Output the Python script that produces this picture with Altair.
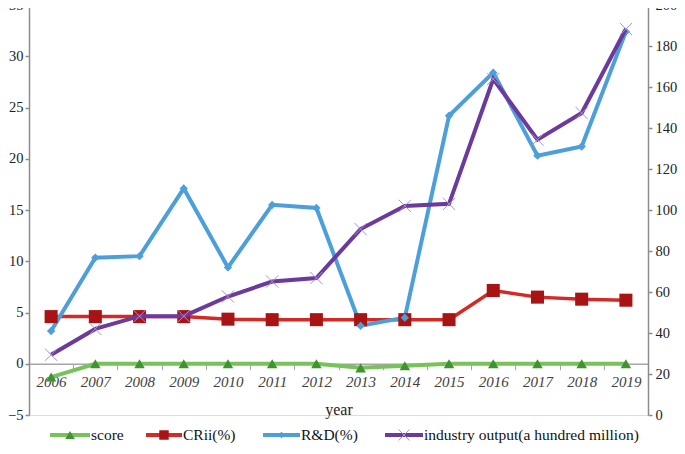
import altair as alt
import pandas as pd

years = [str(y) for y in range(2006, 2020)]
score = [-1.3, 0, 0, 0, 0, 0, 0, -0.4, -0.2, 0, 0, 0, 0, 0]
crii = [4.6, 4.6, 4.6, 4.6, 4.35, 4.3, 4.3, 4.3, 4.3, 4.3, 7.15, 6.5, 6.3, 6.2]
rd = [3.2, 10.35, 10.5, 17.1, 9.4, 15.5, 15.2, 3.7, 4.5, 24.2, 28.4, 20.3, 21.2, 32.4]
output = [29.4, 42.0, 48.2, 48.2, 57.8, 65.1, 66.8, 90.7, 102.0, 103.0, 163.9, 134.3, 147.3, 188.3]

legend_labels = ["score", "CRii(%)", "R&D(%)", "industry output(a hundred million)"]

df = pd.DataFrame({"year": years, "score": score, "crii": crii, "rd": rd, "output": output})
one = pd.DataFrame({"a": [0]})

W, H = 619, 410
FONT = "Liberation Serif"
AX = "#8c8c8c"

GREEN, GREEN_M = "#78c25a", "#3f9330"
RED, RED_M = "#d42a25", "#a81414"
BLUE = "#4c9fda"
PURPLE, PURPLE_M = "#6b3a9c", "#a890d4"
XPATH = "M-1,-1L1,1M1,-1L-1,1"

xenc = alt.X(
    "year:O",
    scale=alt.Scale(type="band", paddingInner=0, paddingOuter=0),
    bandPosition=0.5,
    axis=alt.Axis(
        title="year", offset=-H * 5 / 40, labelAngle=0,
        domainColor="#a6a6a6", domainWidth=1.5,
        tickBand="extent", tickColor="#a6a6a6", tickSize=6, tickWidth=1,
        labelFont=FONT, labelFontStyle="italic", labelFontSize=15, labelColor="#404040",
        labelPadding=5, titleFont=FONT, titleFontSize=16, titleFontWeight="normal",
        titleColor="#222222", titlePadding=12,
    ),
)


def yleft(field):
    return alt.Y(
        f"{field}:Q",
        scale=alt.Scale(domain=[-5, 35], nice=False, zero=False),
        axis=alt.Axis(
            title=None, values=list(range(-5, 36, 5)), grid=False,
            domainColor=AX, domainWidth=1.5, tickColor=AX, tickSize=4, tickWidth=1.5,
            labelFont=FONT, labelFontSize=14.5, labelColor="#222222", labelPadding=2,
        ),
    )


base = alt.Chart(df)

score_line = base.mark_line(color=GREEN, strokeWidth=4).encode(x=xenc, y=yleft("score"))
score_pt = base.mark_point(shape="triangle-up", filled=True, color=GREEN_M, size=110, opacity=1).encode(x=xenc, y=yleft("score"))
crii_line = base.mark_line(color=RED, strokeWidth=3.5).encode(x=xenc, y=yleft("crii"))
crii_pt = base.mark_point(shape="square", filled=True, color=RED_M, size=170, opacity=1).encode(x=xenc, y=yleft("crii"))
rd_line = base.mark_line(color=BLUE, strokeWidth=4).encode(x=xenc, y=yleft("rd"))
rd_pt = base.mark_point(shape="diamond", filled=True, color=BLUE, size=70, opacity=1).encode(x=xenc, y=yleft("rd"))

left = alt.layer(score_line, crii_line, rd_line, score_pt, crii_pt, rd_pt)

yright = alt.Y(
    "output:Q",
    scale=alt.Scale(domain=[0, 200], nice=False, zero=False),
    axis=alt.Axis(
        title=None, orient="right", values=list(range(0, 201, 20)), grid=False,
        domainColor=AX, domainWidth=1.5, tickColor=AX, tickSize=4, tickWidth=1.5,
        labelFont=FONT, labelFontSize=14.5, labelColor="#222222", labelPadding=3,
    ),
)
out_line = base.mark_line(color=PURPLE, strokeWidth=4).encode(x=xenc, y=yright)
out_pt = base.mark_point(shape=XPATH, filled=False, color=PURPLE_M, strokeWidth=1, size=150, opacity=1).encode(x=xenc, y=yright)
right = alt.layer(out_line, out_pt)

# manual legend (line + marker + label)
LY = 430
leg_specs = [
    (21, 61, GREEN, GREEN_M, "triangle-up", True, 90),
    (117, 153, RED, RED_M, "square", True, 90),
    (234, 271, BLUE, BLUE, "diamond", True, 45),
    (356, 394, PURPLE, PURPLE_M, XPATH, False, 120),
]
leg_layers = []
src = alt.Chart(one)
for (x1, x2, lc, mc, shp, fill, sz), lab in zip(leg_specs, legend_labels):
    leg_layers.append(src.mark_rule(color=lc, strokeWidth=4).encode(
        x=alt.value(x1), x2=alt.value(x2), y=alt.value(LY)))
    if fill:
        leg_layers.append(src.mark_point(shape=shp, filled=True, color=mc, size=sz, opacity=1).encode(
            x=alt.value((x1 + x2) / 2), y=alt.value(LY)))
    else:
        leg_layers.append(src.mark_point(shape=shp, filled=False, color=mc, strokeWidth=1, size=sz, opacity=1).encode(
            x=alt.value((x1 + x2) / 2), y=alt.value(LY)))
    leg_layers.append(src.mark_text(align="left", baseline="middle", font=FONT, fontSize=15.5, color="#111111").encode(
        x=alt.value(x2 + 1), y=alt.value(LY), text=alt.value(lab)))

legend = alt.layer(*leg_layers)

chart = (
    alt.layer(left, right, legend)
    .resolve_scale(y="independent")
    .properties(
        width=W, height=H,
        autosize=alt.AutoSizeParams(type="none"),
        padding={"left": 21, "top": -3, "right": 29, "bottom": 31},
    )
    .configure_view(stroke=None)
    .configure(background="white")
)

chart.save("out.html", embed_options={"renderer": "svg", "actions": False})
